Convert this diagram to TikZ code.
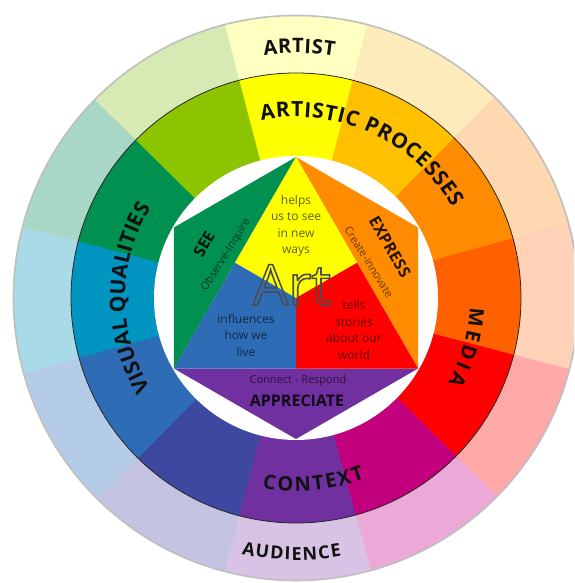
\documentclass[tikz,border=0pt]{standalone}
\usepackage{fontspec}
\setmainfont{Open Sans}
\usetikzlibrary{decorations.text,calc}
% middle ring
\definecolor{m90}{HTML}{FFFF00}
\definecolor{m60}{HTML}{FFC000}
\definecolor{m30}{HTML}{FF8C00}
\definecolor{m0}{HTML}{FF6100}
\definecolor{mm30}{HTML}{FF0000}
\definecolor{mm60}{HTML}{C2007E}
\definecolor{mm90}{HTML}{7030A0}
\definecolor{mm120}{HTML}{3F48A0}
\definecolor{mm150}{HTML}{2E6DB5}
\definecolor{m180}{HTML}{0094C0}
\definecolor{m150}{HTML}{00904F}
\definecolor{m120}{HTML}{8CC400}
% outer ring
\definecolor{o90}{HTML}{FFFFC2}
\definecolor{o60}{HTML}{FEEBBB}
\definecolor{o30}{HTML}{FDD8B0}
\definecolor{o0}{HTML}{FFD2B8}
\definecolor{om30}{HTML}{FFA8A8}
\definecolor{om60}{HTML}{ECA8D6}
\definecolor{om90}{HTML}{D8C3E5}
\definecolor{om120}{HTML}{C4C4E2}
\definecolor{om150}{HTML}{B4CCE7}
\definecolor{o180}{HTML}{A9DAE8}
\definecolor{o150}{HTML}{A8D7C5}
\definecolor{o120}{HTML}{D7EAB4}
\definecolor{labelblack}{HTML}{111111}
\newcommand\ringfont{\fontsize{21}{21}\selectfont\bfseries}
\newcommand\midringfont{\fontsize{20}{20}\selectfont\bfseries}
\newcommand\smallringfont{\fontsize{18}{18}\selectfont\bfseries}
\tikzset{
  ringlabel/.style={decorate, decoration={text along path, text={#1},
      text align={fit to path}, text color=labelblack}},
  innertext/.style={align=center, font=\fontsize{12}{16.5}\selectfont,
      text=black, text opacity=0.62, inner sep=0pt},
  subtext/.style={font=\fontsize{11}{12}\selectfont, text=black,
      text opacity=0.6, inner sep=0pt},
  headtext/.style={font=\fontsize{16}{18}\selectfont\bfseries, text=black,
      text opacity=0.85, inner sep=0pt}
}
\begin{document}
\begin{tikzpicture}[x=1pt,y=1pt]
\useasboundingbox (-296,-285) rectangle (278,298);
\fill[white] (-296,-285) rectangle (278,298);
\begin{scope}
\clip (-296,-285) rectangle (278,298);
\foreach \a/\oc in {90/o90,60/o60,30/o30,0/o0,-30/om30,-60/om60,-90/om90,-120/om120,-150/om150,180/o180,150/o150,120/o120}{
  \fill[\oc] (0,0) -- (\a-15.4:283pt) arc[start angle=\a-15.4, end angle=\a+15.4, radius=283pt] -- cycle;
}
\foreach \a/\mc in {90/m90,60/m60,30/m30,0/m0,-30/mm30,-60/mm60,-90/mm90,-120/mm120,-150/mm150,180/m180,150/m150,120/m120}{
  \fill[\mc] (0,0) -- (\a-15.4:225pt) arc[start angle=\a-15.4, end angle=\a+15.4, radius=225pt] -- cycle;
}
\draw[black!25, line width=1.6pt] (0,0) circle[radius=282.5pt];
\draw[black!85, line width=0.8pt] (0,0) circle[radius=225pt];
\fill[white] (0,0) circle[radius=142pt];
\end{scope}
% hexagon
\coordinate (T) at (90:141pt);
\coordinate (UL) at (150:141pt);
\coordinate (LL) at (210:141pt);
\coordinate (B) at (270:141pt);
\coordinate (LR) at (330:141pt);
\coordinate (UR) at (30:141pt);
\coordinate (O) at (0,0);
\coordinate (ML) at ($(T)!0.5!(LL)$);
\coordinate (MR) at ($(T)!0.5!(LR)$);
\coordinate (MB) at ($(LL)!0.5!(LR)$);
\fill[m150] (T) -- (UL) -- (LL) -- cycle;
\fill[m30] (T) -- (UR) -- (LR) -- cycle;
\fill[mm90] (LL) -- (B) -- (LR) -- cycle;
\fill[m90] (T) -- (ML) -- (O) -- (MR) -- cycle;
\fill[mm30] (MR) -- (LR) -- (MB) -- (O) -- cycle;
\fill[mm150] (ML) -- (O) -- (MB) -- (LL) -- cycle;
% ring labels
\path[ringlabel={|\midringfont|ARTIST}] (97.5:245pt) arc[start angle=97.5, end angle=81, radius=245pt];
\path[ringlabel={|\ringfont|ARTISTIC PROCESSES}] (101:181pt) arc[start angle=101, end angle=30, radius=181pt];
\path[ringlabel={|\ringfont|VISUAL QUALITIES}] (212:171pt) arc[start angle=212, end angle=148, radius=171pt];
\path[ringlabel={|\midringfont|MEDIA}] (-3:174pt) arc[start angle=-3, end angle=-29, radius=174pt];
\path[ringlabel={|\midringfont|CONTEXT}] (-100:193pt) arc[start angle=-100, end angle=-69, radius=193pt];
\path[ringlabel={|\smallringfont|AUDIENCE}] (-102:262pt) arc[start angle=-102, end angle=-80, radius=262pt];
% inner texts
\node[innertext] (helps) at (0,72) {helps\\us to see\\in new\\ways};
\node[innertext] (influences) at (-50,-37) {influences\\how we\\live};
\node[innertext] (tells) at (58,-32) {tells\\stories\\about our\\world};
\node[headtext, rotate=60] (see) at (-92,54) {SEE};
\node[subtext, rotate=58] (observe) at (-70,43) {Observe-Inquire};
\node[headtext, rotate=-60] (express) at (94,51) {EXPRESS};
\node[subtext, rotate=-58] (create) at (73,36) {Create-innovate};
\node[subtext] (connect) at (2,-83) {Connect - Respond};
\node[headtext] (appreciate) at (1,-103) {APPRECIATE};
\node[text=black!70, font=\fontsize{56}{56}\selectfont, inner sep=0pt] (art) at (-4,13)
  {\special{pdf:literal direct 1 Tr 1.6 w}Art\special{pdf:literal direct 0 Tr}};
\end{tikzpicture}
\end{document}
